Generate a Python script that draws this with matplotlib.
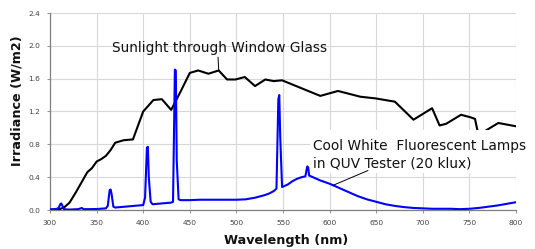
import matplotlib
matplotlib.use("Agg")
import matplotlib.pyplot as plt
from matplotlib.patches import Rectangle

# Sunlight through window glass
sun_wl = [302, 310, 315, 321, 328, 334, 340, 345, 350, 355, 360, 365, 370, 379, 389,
          400, 411, 420, 430, 440, 450, 459, 470, 481, 490, 499, 509, 520, 531, 540,
          549, 590, 609, 633, 649, 670, 690, 710, 718, 725, 741, 751, 756, 759, 765,
          781, 800]
sun_val = [0.0, 0.01, 0.03, 0.09, 0.22, 0.34, 0.46, 0.51, 0.59, 0.62, 0.66, 0.73, 0.82, 0.85, 0.86,
           1.20, 1.34, 1.35, 1.22, 1.44, 1.67, 1.70, 1.66, 1.70, 1.59, 1.59, 1.62, 1.51, 1.59, 1.57,
           1.58, 1.39, 1.45, 1.38, 1.36, 1.32, 1.10, 1.24, 1.03, 1.05, 1.16, 1.13, 1.11, 0.95, 0.95,
           1.06, 1.02]

# Cool white fluorescent lamps in QUV tester
cw_wl = [300, 305, 309, 311, 312, 313, 315, 320, 330, 333, 334, 336, 340, 350, 360, 362,
         364, 365, 366, 368, 370, 380, 390, 400, 402, 404, 405, 406, 408, 410, 420, 430,
         432, 434, 435, 436, 438, 440, 450, 460, 470, 480, 490, 500, 510, 520, 530, 535,
         540, 543, 545, 546, 547, 549, 555, 560, 565, 570, 574, 576, 577, 578, 580, 590,
         600, 610, 620, 630, 640, 650, 660, 670, 680, 690, 700, 710, 720, 730, 740, 750,
         760, 770, 780, 790, 800]
cw_val = [0.01, 0.01, 0.02, 0.07, 0.08, 0.06, 0.01, 0.005, 0.01, 0.02, 0.025, 0.01, 0.01, 0.012, 0.02, 0.05,
          0.24, 0.25, 0.2, 0.04, 0.03, 0.04, 0.05, 0.06, 0.15, 0.76, 0.77, 0.4, 0.1, 0.07, 0.08, 0.09,
          0.10, 1.71, 1.70, 0.6, 0.13, 0.12, 0.12, 0.125, 0.125, 0.125, 0.125, 0.125, 0.13, 0.15, 0.18, 0.2,
          0.23, 0.26, 1.35, 1.40, 0.9, 0.28, 0.31, 0.35, 0.38, 0.40, 0.41, 0.53, 0.52, 0.42, 0.41, 0.36,
          0.32, 0.27, 0.22, 0.17, 0.13, 0.10, 0.07, 0.05, 0.035, 0.025, 0.02, 0.015, 0.015, 0.015, 0.01, 0.015,
          0.025, 0.04, 0.055, 0.075, 0.095]

x_ticks = [300, 350, 400, 450, 500, 550, 600, 650, 700, 750, 800]
y_ticks = [0.0, 0.4, 0.8, 1.2, 1.6, 2.0, 2.4]
y_tick_labels = ["0.0", "0.4", "0.8", "1.2", "1.6", "2.0", "2.4"]

W, H = 535, 249
plt.rcParams['font.family'] = ['DejaVu Sans']
fig = plt.figure(figsize=(W / 100, H / 100), dpi=100)

L, R, B, T = 50, 516, 210, 13
ax = fig.add_axes([L / W, 1 - B / H, (R - L) / W, (B - T) / H])

ax.plot(sun_wl, sun_val, color='black', lw=1.5, zorder=3)
ax.plot(cw_wl, cw_val, color='#0000ff', lw=1.5, zorder=4)

ax.set_xlim(300, 800)
ax.set_ylim(0, 2.4)
ax.set_xticks(x_ticks)
ax.set_yticks(y_ticks)
ax.set_yticklabels(y_tick_labels)
ax.grid(True, color='#d8d8d8', lw=0.8)
ax.set_axisbelow(True)
for s in ['top', 'right']:
    ax.spines[s].set_visible(False)
for s in ['left', 'bottom']:
    ax.spines[s].set_color('#808080')
    ax.spines[s].set_linewidth(0.9)
ax.tick_params(axis='both', labelsize=5.4, colors='#808080', labelcolor='#444444',
               length=2.5, width=0.6)
ax.tick_params(axis='x', pad=4.5)
ax.tick_params(axis='y', pad=4.5)

# annotations
ax.text(366, 1.97, "Sunlight through Window Glass", fontsize=9.9, va='center', ha='left',
        color='#111111', zorder=6)
ax.plot([480.3, 481], [1.86, 1.71], color='black', lw=0.7, zorder=6)

# white backing of the lamp label (hides grid and the sunlight curve behind it)
ax.add_patch(Rectangle((579, 0.45), 245, 0.525, facecolor='white', edgecolor='none',
                       zorder=5, clip_on=False))
ax.text(582.5, 0.67, "Cool White  Fluorescent Lamps\nin QUV Tester (20 klux)", fontsize=9.9,
        va='center', ha='left', color='#111111', linespacing=1.3, zorder=6, clip_on=False)
ax.plot([603.6, 641], [0.30, 0.48], color='black', lw=0.7, zorder=7)

fig.text(17 / W, 1 - 101 / H, "Irradiance (W/m2)", rotation=90, fontsize=9.2, fontweight='bold',
         ha='center', va='center', color='#111111')
fig.text(286 / W, 1 - 240 / H, "Wavelength (nm)", fontsize=9.2, fontweight='bold',
         ha='center', va='center', color='#111111')

fig.savefig("out.png", dpi=100)
